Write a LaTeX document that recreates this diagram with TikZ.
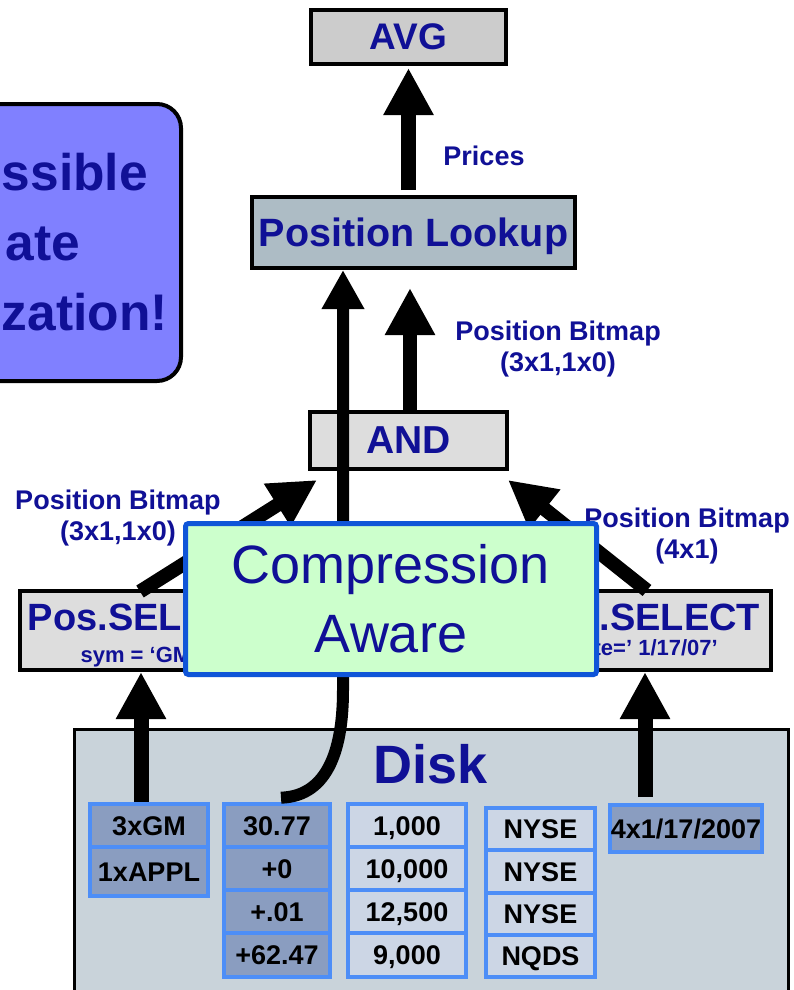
\documentclass[tikz,border=0pt]{standalone}
\usepackage{fontspec}
\setmainfont{Liberation Sans}
\usetikzlibrary{arrows.meta,calc}

\definecolor{txtblue}{RGB}{16,16,150}
\definecolor{avgfill}{RGB}{204,204,204}
\definecolor{lookfill}{RGB}{173,188,197}
\definecolor{boxfill}{RGB}{221,221,221}
\definecolor{diskfill}{RGB}{201,211,218}
\definecolor{cellline}{RGB}{77,142,247}
\definecolor{celldark}{RGB}{138,157,192}
\definecolor{celllight}{RGB}{204,214,229}
\definecolor{cafill}{RGB}{204,255,204}
\definecolor{caline}{RGB}{15,85,216}
\definecolor{notefill}{RGB}{128,128,255}

\newcommand\fsz[1]{\fontsize{#1}{#1}\selectfont}

\begin{document}
\begin{tikzpicture}[x=1pt,y=-1pt,
  opbox/.style={draw=black, line width=4pt, inner sep=0pt, text=txtblue, text depth=0pt},
  seltitle/.style={inner sep=0pt, text=txtblue, font=\fsz{38}\bfseries},
  selsub/.style={inner sep=0pt, text=txtblue, font=\fsz{22}\bfseries},
  lbl/.style={inner sep=0pt, text=txtblue, align=center, font=\fontsize{27}{31}\selectfont\bfseries},
  notetext/.style={inner sep=0pt, text=txtblue, anchor=base east, font=\fsz{51.5}\bfseries},
  cell/.style={draw=cellline, line width=4pt, inner sep=0pt, text=black,
    text height=19.5pt, text depth=0pt, font=\fsz{27}\bfseries},
  darkcell/.style={cell, fill=celldark},
  lightcell/.style={cell, fill=celllight},
  fat/.style={line width=15pt, -{Triangle[width=47pt,length=47pt]}}
]
\clip (0,0) rectangle (794,990);
\fill[white] (0,0) rectangle (794,990);

% note box at the left edge
\node[draw=black, line width=4pt, fill=notefill, rounded corners=24pt,
      minimum width=211pt, minimum height=277pt, inner sep=0pt] (note) at (75.5,242.5) {};
\node[notetext] (note1) at (148,190) {ssible};
\node[notetext] (note2) at (80,260) {ate};
\node[notetext] (note3) at (168,330) {zation!};

% disk with its columns
\node[draw=black, line width=3pt, fill=diskfill, minimum width=714pt, minimum height=280pt,
      inner sep=0pt] (disk) at (431.5,869.5) {};
\node[inner sep=0pt, anchor=base, text=txtblue, font=\fsz{54}\bfseries] (disklbl) at (431,783) {Disk};

\node[darkcell, minimum width=118pt, minimum height=43.6pt] (c1) at (149,825.5) {3xGM};
\node[darkcell, minimum width=118pt, minimum height=49pt] (c2) at (149,871.8) {1xAPPL};
\foreach \t [count=\i] in {30.77,+0,+.01,+62.47}
  \node[darkcell, minimum width=106pt, minimum height=43.2pt] (p\i) at (277,{782.1+43.2*\i}) {\t};
\foreach \t [count=\i] in {{1,000},{10,000},{12,500},{9,000}}
  \node[lightcell, minimum width=118pt, minimum height=43.2pt] (q\i) at (407,{782.1+43.2*\i}) {\t};
\foreach \t [count=\i] in {NYSE,NYSE,NYSE,NQDS}
  \node[lightcell, minimum width=109pt, minimum height=42.25pt] (x\i) at (540.5,{786.9+42.25*\i}) {\t};
\node[darkcell, minimum width=152pt, minimum height=47pt] (e1) at (686,828.5) {4x1/17/2007};

% operator boxes
\node[opbox, fill=avgfill, minimum width=195pt, minimum height=54pt, font=\fsz{37}\bfseries] (avg) at (408.5,37) {AVG};
\node[opbox, fill=lookfill, minimum width=323pt, minimum height=71pt, font=\fsz{39.5}\bfseries] (lookup) at (413.5,232.5) {Position Lookup};
\node[opbox, fill=boxfill, minimum width=197pt, minimum height=57pt, font=\fsz{39}\bfseries] (andbox) at (408.5,440.5) {AND};

\node[opbox, fill=boxfill, minimum width=247pt, minimum height=79pt] (lsel) at (143,630) {};
\node[seltitle, anchor=base] (lseltitle) at (143,630) {Pos.SELECT};
\node[selsub, anchor=base] (lselsub) at (139,662) {sym = ‘GM’};
\node[opbox, fill=boxfill, minimum width=251pt, minimum height=79pt] (rsel) at (645,630) {};
\node[seltitle, anchor=base] (rseltitle) at (645,630) {Pos.SELECT};
\node[selsub, anchor=base east] (rselsub) at (718,655) {date=’ 1/17/07’};

% edge labels
\node[lbl, anchor=base] (lblprices) at (484,165) {Prices};
\node[lbl] (lbltop) at (558,349) {Position Bitmap\\(3x1,1x0)};
\node[lbl] (lblleft) at (118,518) {Position Bitmap\\(3x1,1x0)};
\node[lbl] (lblright) at (687,536) {Position Bitmap\\(4x1)};

% data flow
\coordinate (bmtip) at (410,288);
\coordinate (bend) at (343,690);
\coordinate (andl) at (317,480);
\coordinate (andr) at (508,480);
\coordinate (lselin) at (141,672);
\coordinate (rselin) at (645,672);

\draw[fat] ($(avg.south |- lookup.north)+(0,-5)$) -- ($(avg.south)+(0,2)$);
\draw[fat, line width=14pt] (bmtip |- andbox.north) -- (bmtip);
\draw[line width=12pt, -{Triangle[width=40pt,length=39pt]}]
  ($(p1.north)+(4,-4)$) .. controls (330,796) and (343,745) .. (bend) -- (lookup.south -| bend);
\draw[fat, line width=14pt] ($(lsel.north)+(-3,3)$) -- (andl);
\draw[fat, line width=14pt] ($(rsel.north)+(2,2)$) -- (andr);
\draw[fat] (c1.north -| lselin) -- (lselin);
\draw[fat] ($(e1.north -| rselin)+(0,-6)$) -- (rselin);

% overlay
\node[draw=caline, line width=5pt, fill=cafill, rounded corners=3pt, minimum width=411pt,
      minimum height=151pt, inner sep=0pt, align=center, text=txtblue,
      font=\fontsize{54}{69}\selectfont] (ca) at (391,599) {Compression\\Aware};
\end{tikzpicture}
\end{document}
